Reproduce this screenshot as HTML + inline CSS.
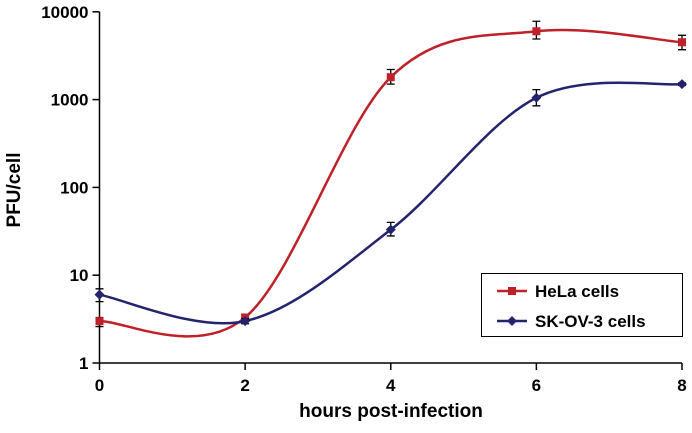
<!DOCTYPE html>
<html><head><meta charset="utf-8"><style>
body{margin:0;background:#fff;}
svg{display:block;font-family:"Liberation Sans",Arial,sans-serif;font-weight:bold;}
</style></head><body>
<svg id="chart" width="692" height="433">
<g id="axes"></g>
<g id="series"></g>
<text x="15" y="190" transform="rotate(-90 15 190)" text-anchor="middle" font-size="19" dominant-baseline="middle">PFU/cell</text>
<text x="391" y="417" text-anchor="middle" font-size="19">hours post-infection</text>
<g>
<rect x="481.5" y="273.5" width="201" height="63" fill="#fff" stroke="#000" stroke-width="1"/>
<g>
<line x1="497" y1="291" x2="527" y2="291" stroke="#c0202a" stroke-width="2.5"/>
<rect x="508" y="287" width="8" height="8" fill="#c0202a"/>
<text x="535" y="297" font-size="17">HeLa cells</text></g>
<g>
<line x1="497" y1="321" x2="527" y2="321" stroke="#23236e" stroke-width="2.5"/>
<polygon points="512,316 517,321 512,326 507,321" fill="#23236e"/>
<text x="535" y="327" font-size="17">SK-OV-3 cells</text></g>
</g>
</svg>
<script>
const hours=[0,2,4,6,8];
const helaValues=[3,3.3,1800,6000,4500];
const helaLow=[2.6,3.0,1500,4900,3700];
const helaHigh=[3.3,3.6,2200,7800,5400];
const skovValues=[6,3,33,1050,1500];
const skovLow=[5,2.8,28,850,1450];
const skovHigh=[7,3.2,40,1300,1550];
const yTicks=[1,10,100,1000,10000];
const xTicks=[0,2,4,6,8];
const NS="http://www.w3.org/2000/svg";
const X0=99.5,X1=682,Y1=363,DEC=87.8;
function xs(v){return X0+(X1-X0)*v/8;}
function ys(v){return Y1-Math.log10(v)*DEC;}
function mk(tag,attrs,parent){const e=document.createElementNS(NS,tag);for(const k in attrs)e.setAttribute(k,attrs[k]);parent.appendChild(e);return e;}
const axes=document.getElementById('axes');
let l=mk('line',{x1:X0,y1:ys(10000),x2:X0,y2:Y1,stroke:'#000','stroke-width':1.5},axes);


l=mk('line',{x1:X0,y1:Y1,x2:X1,y2:Y1,stroke:'#000','stroke-width':1.5},axes);


yTicks.forEach(t=>{const y=ys(t);
mk('line',{x1:X0-7,y1:y,x2:X0,y2:y,stroke:'#000','stroke-width':1.5},axes);
const tx=mk('text',{x:X0-11,y:y+6,'text-anchor':'end','font-size':17},axes);tx.textContent=t;

});
xTicks.forEach(t=>{const x=xs(t);
mk('line',{x1:x,y1:Y1,x2:x,y2:Y1+7,stroke:'#000','stroke-width':1.5},axes);
const tx=mk('text',{x:x,y:Y1+28,'text-anchor':'middle','font-size':17},axes);tx.textContent=t;

});
function path(vals){const p=hours.map((h,i)=>[xs(h),ys(vals[i])]);let d='M'+p[0][0]+','+p[0][1];
for(let i=0;i<p.length-1;i++){const p0=p[i-1]||p[i],p1=p[i],p2=p[i+1],p3=p[i+2]||p2;const t=0.5/3;
d+=' C'+(p1[0]+(p2[0]-p0[0])*t)+','+(p1[1]+(p2[1]-p0[1])*t)+' '+(p2[0]-(p3[0]-p1[0])*t)+','+(p2[1]-(p3[1]-p1[1])*t)+' '+p2[0]+','+p2[1];}return d;}
const g=document.getElementById('series');
function draw(vals,lo,hi,col,name,diamond){
const pth=mk('path',{d:path(vals),fill:'none',stroke:col,'stroke-width':2.5},g);


hours.forEach((h,i)=>{const x=xs(h);
const eb=mk('path',{d:`M${x},${ys(lo[i])}V${ys(hi[i])}M${x-4},${ys(lo[i])}h8M${x-4},${ys(hi[i])}h8`,stroke:'#000','stroke-width':1.3,fill:'none'},g);


const y=ys(vals[i]);let m;
if(diamond)m=mk('polygon',{points:`${x},${y-5} ${x+5},${y} ${x},${y+5} ${x-5},${y}`,fill:col},g);
else m=mk('rect',{x:x-4,y:y-4,width:8,height:8,fill:col},g);

});}
draw(helaValues,helaLow,helaHigh,'#c0202a','hela',false);
draw(skovValues,skovLow,skovHigh,'#23236e','skov3',true);
</script>
</body></html>
